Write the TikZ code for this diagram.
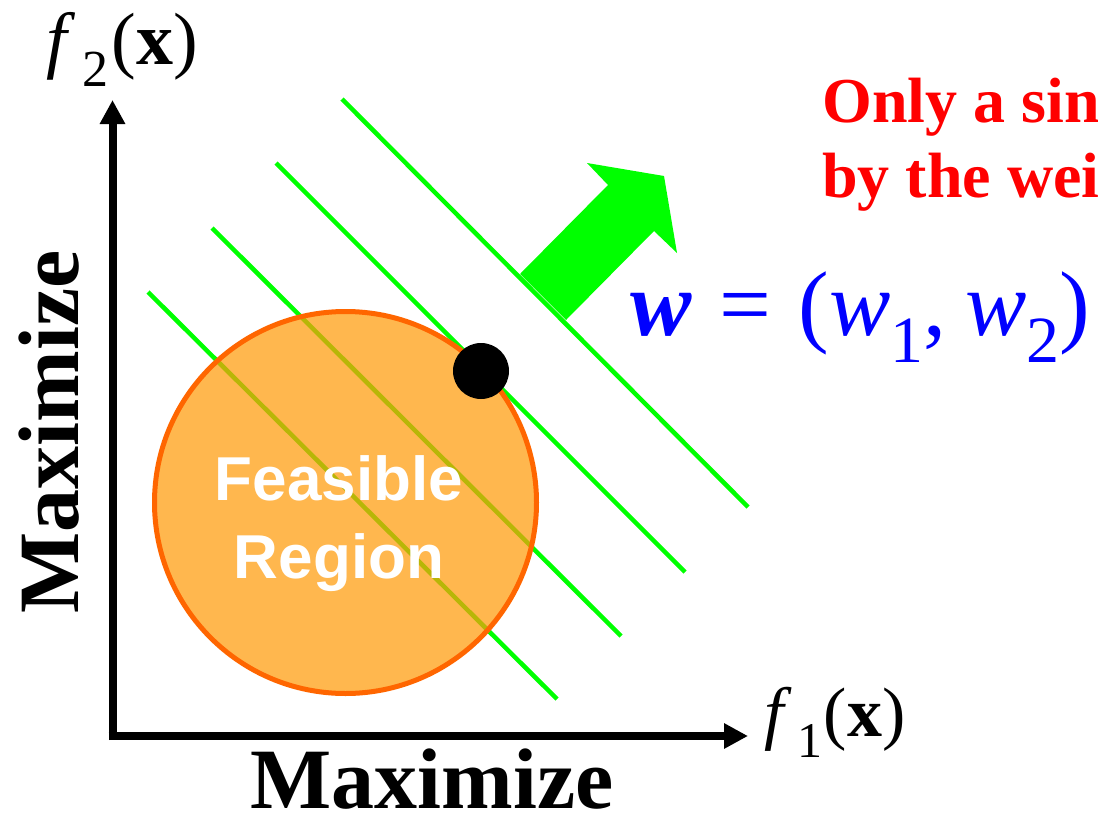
\documentclass[tikz,border=0pt]{standalone}
\usepackage{fontspec}
\setmainfont{Liberation Serif}
\setsansfont{Liberation Sans}
\usetikzlibrary{arrows.meta}
\definecolor{pgreen}{RGB}{0,255,0}
\definecolor{porange}{RGB}{255,102,0}
\definecolor{pfill}{RGB}{255,155,10}
\definecolor{pred}{RGB}{255,0,0}
\definecolor{pblue}{RGB}{0,0,255}
\tikzset{
  axis/.style={line width=8pt, -{Triangle[width=24pt,length=24pt]}},
  level/.style={draw=pgreen, line width=4.5pt},
  bigserif/.style={font=\fontsize{86}{96}\selectfont\bfseries, inner sep=0pt, text depth=0pt},
  axlabel/.style={font=\fontsize{70}{78}\selectfont, inner sep=0pt, anchor=base west},
  note/.style={font=\fontsize{64}{75}\selectfont\bfseries, text=pred, inner sep=0pt, anchor=base west},
  regiontext/.style={font=\fontsize{62}{70}\selectfont\sffamily\bfseries, text=white, inner sep=0pt, anchor=base},
}
\newcommand{\lowsub}[2]{\raisebox{-0.3em}{\fontsize{#1}{#1}\selectfont #2}}
\begin{document}
\begin{tikzpicture}[x=1pt,y=-1pt]
\useasboundingbox (0,0) rectangle (1098,822);
% green level lines
\coordinate (l1a) at (148,292); \coordinate (l1b) at (557,699);
\coordinate (l2a) at (212,228); \coordinate (l2b) at (621,636);
\coordinate (l3a) at (276,163); \coordinate (l3b) at (685,572);
\coordinate (l4a) at (342,99);  \coordinate (l4b) at (748,507);
\draw[level] (l1a) -- (l1b);
\draw[level] (l2a) -- (l2b);
\draw[level] (l3a) -- (l3b);
\draw[level] (l4a) -- (l4b);
% feasible region
\coordinate (c) at (345.5,502.5);
\fill[pfill, fill opacity=0.72] (c) circle[radius=191];
\draw[porange, line width=5pt] (c) circle[radius=191];
% optimal point
\fill[black] (481,371) circle[radius=28];
% weight arrow
\fill[pgreen] (520,274) -- (608,185) -- (587,163) -- (664,176) -- (677,253) -- (654,231) -- (566,320) -- cycle;
% axes
\coordinate (o) at (112.5,736);
\coordinate (ytip) at (112.5,100);
\coordinate (xtip) at (748,736);
\draw[axis] (112.5,740) -- (ytip);
\draw[axis] (108.5,736) -- (xtip);
% labels
\node[axlabel, font=\fontsize{74}{80}\selectfont] (f2) at (46,64) {\textit{f}\kern0.1em\lowsub{52}{2}\kern0.04em(\textbf{x})};
\node[axlabel] (f1) at (764,736) {\textit{f}\kern0.08em\lowsub{50}{1}\kern0.02em(\textbf{x})};
\node[bigserif, anchor=base] (mx) at (432,808) {Maximize};
\node[bigserif, anchor=base, rotate=90] (my) at (78,432) {Maximize};
\node[regiontext] (fr1) at (339,500) {Feasible};
\node[regiontext] (fr2) at (339,578) {Region};
\node[font=\fontsize{92}{100}\selectfont, text=pblue, inner sep=0pt, anchor=base west] (w) at (630,335)
  {\textbf{\textit{w}}\hspace{0.3em}=\hspace{0.3em}(\textit{w}\lowsub{66}{1},\hspace{0.2em}\textit{w}\lowsub{66}{2})};
\node[note] (n1) at (822,122) {Only a sin};
\node[note] (n2) at (822,197) {by the wei};
\end{tikzpicture}
\end{document}
